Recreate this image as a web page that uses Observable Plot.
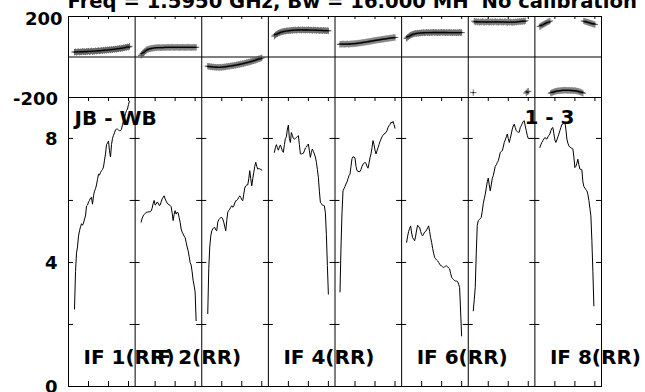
<!DOCTYPE html>
<html><head><meta charset="utf-8">
<script src="https://cdn.jsdelivr.net/npm/d3@7"></script>
<script src="https://cdn.jsdelivr.net/npm/@observablehq/plot@0.6"></script>
<style>
html,body{margin:0;padding:0;background:#fff;overflow:hidden;}
#wrap{position:relative;width:645px;height:392px;overflow:hidden;background:#fff;}
#wrap svg{display:block;}
#title{position:absolute;left:0;top:0;z-index:5;}
</style></head><body>
<div id="wrap"></div>
<script>
// ---- text ----
const titleText = "Freq = 1.5950 GHz, Bw = 16.000 MH'  No calibration";
const baselineLabel = "JB - WB";
const sourceLabel = "1 - 3";
const ifLabels = ["IF 1(RR)", "IF 2(RR)", "IF 4(RR)", "IF 6(RR)", "IF 8(RR)"];
const ifLabelPanels = [1, 2, 4, 6, 8];

// ---- axes ----
const nPanels = 8;
const panelSpan = 66.625;          // channel-axis span of one IF panel
const channelTicks = [20, 40, 60];
const ampMax = 9.32;
const ampLabelTicks = [0, 4, 8];
const ampCrossTicks = [2, 4, 6, 8];
const phaseTop = [200];
const phaseBottom = [-200];

// ---- first channel of each IF ----
const startCh = [6, 6, 6, 6, 5, 5, 5, 5];

// ---- amplitude per channel ----
const ampIF1 = [2.5,3.7,4.3,4.5,4.85,5.02,5.15,5.25,5.2,5.27,5.4,5.5,5.82,5.85,5.95,6.0,6.08,6.1,5.88,6.15,6.3,6.38,6.5,6.68,6.85,6.82,6.9,6.96,7.0,7.08,7.3,7.5,7.8,7.85,7.92,7.6,7.4,7.8,8.0,8.1,8.18,8.28,8.3,8.3,8.27,8.25,8.25,8.3,8.45,8.55,8.68,8.8,8.9,8.95,9.1,9.2];
const ampIF2 = [5.3,5.42,5.5,5.55,5.58,5.61,5.62,5.63,5.64,5.63,5.66,5.75,5.9,6.0,5.85,5.88,5.95,5.92,5.84,5.85,5.95,6.05,6.1,6.15,6.05,5.98,5.92,5.88,5.86,5.84,5.8,5.6,5.35,5.55,5.67,5.56,5.62,5.6,5.45,5.3,5.08,4.98,4.92,4.85,4.8,4.65,4.5,4.38,4.2,4.0,3.92,3.7,3.42,3.25,3.05,2.12];
const ampIF3 = [2.35,3.8,4.5,4.85,5.02,5.08,5.12,5.13,5.05,5.02,5.3,5.38,5.42,5.45,5.45,5.4,5.3,5.15,5.02,5.35,5.62,5.68,5.72,5.78,5.83,5.78,5.82,5.92,5.99,6.0,6.04,6.1,6.15,6.1,6.02,5.99,6.2,6.4,6.47,6.5,6.5,6.7,6.96,6.7,6.47,6.7,6.9,7.1,7.23,7.1,7.01,7.03,7.02,7.0,6.98];
const ampIF4 = [7.55,7.7,7.8,7.7,7.62,7.72,7.79,7.7,7.6,7.55,7.8,8.0,8.05,8.3,8.43,8.0,7.87,8.19,8.1,8.0,7.98,8.0,8.03,8.06,8.09,7.8,7.5,7.5,7.51,7.52,7.6,7.69,7.72,7.78,7.82,7.6,7.39,7.55,7.66,7.58,7.5,7.4,7.23,7.0,6.74,6.3,5.94,5.9,5.85,5.84,5.83,5.6,4.9,3.9,2.98];
const ampIF5 = [3.05,4.5,5.6,6.31,6.38,6.45,6.53,6.6,6.7,6.8,6.85,7.1,7.35,7.41,7.4,7.37,7.1,6.96,6.94,6.93,6.93,7.0,7.1,7.17,7.2,7.23,7.2,7.1,7.04,7.2,7.38,7.5,7.7,7.93,7.8,7.62,7.5,7.6,7.7,7.8,7.9,7.98,8.05,8.1,8.14,8.17,8.19,8.25,8.35,8.41,8.45,8.52,8.5,8.55,8.45,8.33];
const ampIF6 = [4.65,4.85,5.0,5.1,5.18,4.95,4.8,4.75,4.7,4.85,5.05,5.2,5.15,5.13,5.0,4.9,4.86,4.92,4.98,5.0,5.05,5.12,5.18,5.0,4.8,4.65,4.45,4.3,4.16,4.12,4.08,4.05,4.0,3.95,3.9,3.89,3.86,3.84,3.86,3.88,3.89,3.86,3.82,3.79,3.65,3.52,3.48,3.45,3.41,3.4,3.4,3.38,3.3,3.19,2.4,1.63];
const ampIF7 = [2.44,2.8,3.2,4.3,5.2,5.35,5.38,5.42,5.45,5.65,5.9,6.05,6.2,6.4,6.6,6.72,6.5,6.31,6.5,6.7,6.8,6.95,7.1,7.15,7.22,7.28,7.4,7.55,7.58,7.6,7.72,7.87,7.95,8.05,8.14,8.0,7.87,8.0,8.14,8.3,8.4,8.46,8.35,8.25,8.22,8.2,8.2,8.35,8.41,8.48,8.55,8.57,8.4,8.25,8.1,8.0,8.0,8.0,8.0];
const ampIF8 = [7.71,7.8,7.87,7.93,7.98,8.03,8.0,7.98,8.05,8.1,8.14,8.25,8.33,8.35,8.15,7.95,7.87,7.95,8.05,8.14,8.25,8.35,8.45,8.46,8.5,8.52,8.3,7.98,7.85,7.76,7.72,7.7,7.68,7.66,7.4,7.06,7.1,7.2,7.33,7.15,7.01,7.0,6.99,6.6,6.45,6.4,6.35,6.31,6.2,6.0,5.75,5.5,4.7,3.7,2.6];

// ---- phase (degrees) per channel ----
const phIF1 = [24,26,23,25,27,24,26,25,28,26,27,25,28,27,29,26,28,30,27,29,28,31,29,30,32,30,31,33,31,34,32,35,33,36,34,37,35,38,36,39,37,40,38,41,40,43,41,44,43,46,45,48,47,50,49,53];
const phIF2 = [8,14,18,25,30,34,38,37,41,40,43,42,45,44,46,45,47,46,48,45,47,46,48,47,46,48,47,49,46,48,47,49,48,46,48,47,49,48,46,48,47,49,47,48,46,48,47,49,47,48,46,48,47,49,47,48];
const phIF3 = [-45,-47,-46,-49,-48,-50,-49,-51,-50,-52,-50,-52,-51,-50,-52,-49,-50,-48,-49,-46,-47,-45,-46,-43,-44,-42,-43,-40,-41,-38,-39,-36,-37,-34,-35,-32,-33,-30,-30,-27,-28,-25,-25,-22,-22,-19,-19,-16,-16,-13,-12,-9,-9,-6,-4];
const phIF4 = [103,108,112,115,118,120,122,124,125,126,128,127,129,130,129,131,130,132,131,133,132,134,132,133,135,133,134,132,135,133,134,132,134,133,135,132,134,133,131,134,132,133,131,133,132,130,132,131,130,132,130,131,129,131,129];
const phIF5 = [62,64,63,65,62,64,63,65,64,62,65,64,66,64,67,65,68,66,69,68,70,69,72,71,73,72,75,74,76,76,78,77,80,79,82,81,83,83,85,84,86,86,88,87,89,89,91,90,92,92,94,93,95,95,97,96];
const phIF6 = [92,97,101,105,108,110,112,114,115,117,116,118,117,119,118,120,119,121,119,120,122,120,121,119,122,120,121,123,120,122,121,119,122,120,121,123,120,122,121,119,122,120,121,122,120,121,119,122,120,121,119,121,120,122,120,121];
const phIF7 = [-176,177,173,176,172,175,171,174,172,176,173,171,174,172,175,173,171,174,172,175,171,173,176,172,174,171,173,175,172,174,171,173,175,172,170,173,171,174,172,170,173,171,174,172,175,173,176,174,177,175,178,176,179,-178,-172,-169];
const phIF8 = [150,153,157,159,162,165,167,170,173,175,178,-179,-176,-174,-172,-170,-169,-168,-167,-166,-167,-165,-166,-164,-165,-163,-165,-164,-166,-164,-165,-166,-164,-166,-167,-165,-167,-168,-169,-170,-172,-174,-176,-179,178,176,175,173,172,170,168,167,165,163,162,160];

const ampSeries = [ampIF1, ampIF2, ampIF3, ampIF4, ampIF5, ampIF6, ampIF7, ampIF8];
const phaseSeries = [phIF1, phIF2, phIF3, phIF4, phIF5, phIF6, phIF7, phIF8];

// ---- tables for the library ----
const pos = (ifIdx, ch) => ifIdx * panelSpan + ch;
const ampRows = ampSeries.flatMap((vals, i) => vals.map((v, j) => ({ifIdx: i, ch: startCh[i] + j, amp: v})));
const phaseRows = [];
phaseSeries.forEach((vals, i) => {
  let seg = 0;
  vals.forEach((v, j) => {
    if (j > 0 && Math.abs(v - vals[j - 1]) > 180) seg++;
    phaseRows.push({ifIdx: i, ch: startCh[i] + j, phase: v, seg: i * 10 + seg});
  });
});
const innerBounds = d3.range(1, nPanels).map(k => k * panelSpan);
const allBounds = d3.range(0, nPanels + 1).map(k => k * panelSpan);
const xTickPos = d3.range(nPanels).flatMap(k => channelTicks.map(t => k * panelSpan + t));
const total = nPanels * panelSpan;
const crossRows = allBounds.flatMap(b => ampCrossTicks.map(y => ({b, y})));
const labelRows = ifLabels.map((t, i) => ({text: t, panel: ifLabelPanels[i]}));

const font = "DejaVu Sans, Liberation Sans, Arial, sans-serif";
const common = {
  width: 645, marginLeft: 68, marginRight: 44,
  x: {domain: [0, total], axis: null},
  style: {background: "white", color: "black", fontFamily: font}
};

const phasePlot = Plot.plot({
  ...common, height: 97, marginTop: 16, marginBottom: 0,
  y: {domain: [-200, 200], axis: null},
  marks: [
    Plot.ruleY([0], {stroke: "black"}),
    Plot.ruleX(innerBounds, {stroke: "black"}),
    Plot.ruleX(xTickPos, {y1: 200 - 400 * 3 / 81, y2: 200, stroke: "black"}),
    Plot.dot(phaseRows, {x: d => pos(d.ifIdx, d.ch), y: "phase", symbol: "plus", r: 2.2, stroke: "#555", strokeWidth: 0.9}),
    Plot.line(phaseRows, Plot.windowY({k: 7, anchor: "middle"}, {x: d => pos(d.ifIdx, d.ch), y: "phase", z: "seg", stroke: "black", strokeWidth: 1.3})),
    Plot.frame({stroke: "black"}),
    Plot.text(phaseTop, {frameAnchor: "left", y: d => d, text: d => String(d), textAnchor: "end", dx: -6, dy: 2.5, fontSize: 18, fontWeight: "bold", fontFamily: font}),
    Plot.text(phaseBottom, {frameAnchor: "left", y: d => d, text: d => String(d), textAnchor: "end", dx: -10.5, dy: 1.5, fontSize: 18, fontWeight: "bold", fontFamily: font})
  ]
});
phasePlot.style.position = "relative";
phasePlot.style.zIndex = "2";
phasePlot.style.overflow = "visible";

const ampPlot = Plot.plot({
  ...common, height: 295, marginTop: 0, marginBottom: 6,
  y: {domain: [0, ampMax], axis: null},
  marks: [
    Plot.ruleX(innerBounds, {stroke: "black"}),
    Plot.ruleY(crossRows, {y: "y", x1: d => Math.max(0, d.b - 5), x2: d => Math.min(total, d.b + 5), stroke: "black"}),
    Plot.ruleX(xTickPos, {y1: 0, y2: 5 / 31, stroke: "black"}),
    Plot.ruleX(xTickPos, {y1: ampMax - 4 / 31, y2: ampMax, stroke: "black"}),
    Plot.line(ampRows, {x: d => pos(d.ifIdx, d.ch), y: "amp", z: "ifIdx", stroke: "black", strokeWidth: 1}),
    Plot.frame({stroke: "black"}),
    Plot.text(ampLabelTicks, {frameAnchor: "left", y: d => d, text: d => String(d), textAnchor: "end", dx: -11, dy: 1, fontSize: 18, fontWeight: "bold", fontFamily: font}),
    Plot.text([baselineLabel], {frameAnchor: "top-left", textAnchor: "start", lineAnchor: "middle", dx: 6, dy: 21, fontSize: 20, fontWeight: "bold", fontFamily: font}),
    Plot.text([sourceLabel], {frameAnchor: "top-right", textAnchor: "end", lineAnchor: "middle", dx: -27, dy: 20, fontSize: 20, fontWeight: "bold", fontFamily: font}),
    Plot.text(labelRows, {x: d => (d.panel - 1) * panelSpan, frameAnchor: "bottom", text: "text", textAnchor: "start", lineAnchor: "middle", dx: 15, dy: -29, fontSize: 20, fontWeight: "bold", fontFamily: font})
  ]
});
ampPlot.style.position = "relative";
ampPlot.style.zIndex = "1";

const wrap = document.getElementById("wrap");
wrap.appendChild(phasePlot);
wrap.appendChild(ampPlot);

const ns = "http://www.w3.org/2000/svg";
const tsvg = document.createElementNS(ns, "svg");
tsvg.setAttribute("id", "title");
tsvg.setAttribute("width", 645);
tsvg.setAttribute("height", 14);
const tt = document.createElementNS(ns, "text");
tt.setAttribute("x", 67.5);
tt.setAttribute("y", 7.5);
tt.setAttribute("font-family", font);
tt.setAttribute("font-weight", "bold");
tt.setAttribute("font-size", "19.6px");
tt.textContent = titleText;
tsvg.appendChild(tt);
wrap.appendChild(tsvg);
</script>
</body></html>
